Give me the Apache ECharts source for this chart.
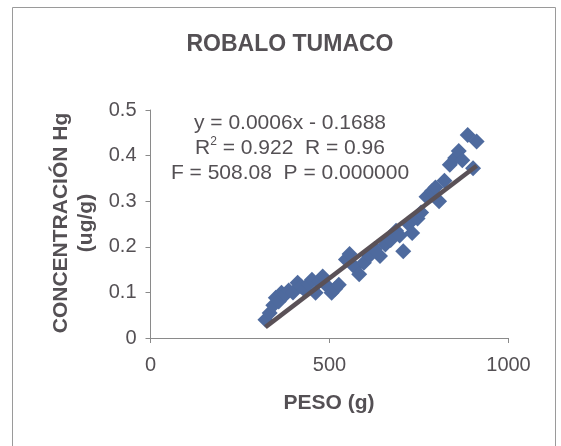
<!DOCTYPE html>
<html>
<head>
<meta charset="utf-8">
<script src="https://cdn.jsdelivr.net/npm/echarts@6/dist/echarts.min.js"></script>
<style>
  html, body { margin: 0; padding: 0; background: #ffffff; }
  #chart { width: 561px; height: 446px; }
</style>
</head>
<body>
<div id="chart"></div>
<script>
// Weight (g) and mercury concentration (ug/g) for each fish sampled
var peso = [321, 333, 343, 350, 358, 366, 376, 386, 398, 411, 421, 431, 441, 451, 461, 470,
            481, 492, 506, 516, 526, 546, 556, 571, 583, 596, 611, 626, 641, 656, 671, 686,
            696, 706, 721, 731, 746, 756, 771, 786, 796, 806, 821, 836, 851, 861, 871, 886,
            901, 911];
var hg = [0.040, 0.055, 0.072, 0.088, 0.080, 0.099, 0.095, 0.104, 0.100, 0.121, 0.113, 0.105,
          0.118, 0.128, 0.099, 0.124, 0.135, 0.115, 0.099, 0.108, 0.117, 0.172, 0.184, 0.155,
          0.140, 0.165, 0.180, 0.195, 0.180, 0.205, 0.215, 0.235, 0.225, 0.190, 0.250, 0.230,
          0.262, 0.275, 0.310, 0.322, 0.330, 0.300, 0.345, 0.380, 0.395, 0.410, 0.390, 0.445,
          0.372, 0.431];

// Fitted linear trend and its statistics
var slope = 0.0006;
var intercept = -0.1688;
var statsLines = [
  'y = 0.0006x - 0.1688',
  'R{sup|2} = 0.922  R = 0.96',
  'F = 508.08  P = 0.000000'
];

// Axis ticks
var xTicks = [0, 500, 1000];
var yTicks = [0, 0.1, 0.2, 0.3, 0.4, 0.5];

var points = peso.map(function (x, i) { return [x, hg[i]]; });
var xMin = Math.min.apply(null, peso);
var xMax = Math.max.apply(null, peso);
var trend = [[xMin, slope * xMin + intercept], [xMax, slope * xMax + intercept]];

var FONT = '"Liberation Sans", Arial, sans-serif';
var TXT = '#545054';

var chart = echarts.init(document.getElementById('chart'), null, { renderer: 'canvas' });
chart.setOption({
  animation: false,
  backgroundColor: '#ffffff',
  grid: { left: 150.5, top: 110, width: 358, height: 228 },
  xAxis: {
    type: 'value',
    min: xTicks[0],
    max: xTicks[xTicks.length - 1],
    interval: xTicks[1] - xTicks[0],
    axisLine: { show: true, lineStyle: { color: '#8a8a8a', width: 1 } },
    axisTick: { show: true, inside: false, length: 5, lineStyle: { color: '#8a8a8a' } },
    splitLine: { show: false },
    axisLabel: {
      color: TXT, fontFamily: FONT, fontSize: 20, margin: 17,
      formatter: function (v) { return String(v); }
    }
  },
  yAxis: {
    type: 'value',
    min: yTicks[0],
    max: yTicks[yTicks.length - 1],
    interval: 0.1,
    axisLine: { show: true, lineStyle: { color: '#8a8a8a', width: 1 } },
    axisTick: { show: true, inside: false, length: 5, lineStyle: { color: '#8a8a8a' } },
    splitLine: { show: false },
    axisLabel: {
      color: TXT, fontFamily: FONT, fontSize: 20, margin: 14,
      formatter: function (v) { return String(Math.round(v * 10) / 10); }
    }
  },
  series: [
    {
      type: 'scatter',
      data: points,
      symbol: 'diamond',
      symbolSize: 16,
      itemStyle: { color: '#4e6a9e', opacity: 1 },
      z: 2
    },
    {
      type: 'line',
      data: trend,
      showSymbol: false,
      symbol: 'none',
      lineStyle: { color: '#5a5157', width: 4.5 },
      z: 3
    }
  ],
  graphic: [
    {
      type: 'rect',
      shape: { x: 12.5, y: 7.5, width: 543, height: 460 },
      style: { fill: 'none', stroke: '#9a9a9a', lineWidth: 1 },
      silent: true
    },
    {
      type: 'text',
      x: 290, y: 45,
      style: {
        text: 'ROBALO TUMACO',
        font: 'bold 23px ' + FONT,
        fill: TXT,
        textAlign: 'center',
        textVerticalAlign: 'middle'
      }
    },
    {
      type: 'text',
      x: 290, y: 148,
      style: {
        text: statsLines.join('\n'),
        font: '21px ' + FONT,
        fill: TXT,
        textAlign: 'center',
        textVerticalAlign: 'middle',
        lineHeight: 25,
        rich: {
          sup: { fontSize: 12, verticalAlign: 'top', fill: TXT, fontFamily: FONT, lineHeight: 25, padding: [0, 0, 9, 0] }
        }
      }
    },
    {
      type: 'text',
      x: 73.5, y: 223,
      rotation: Math.PI / 2,
      style: {
        text: 'CONCENTRACIÓN Hg\n(ug/g)',
        font: 'bold 21px ' + FONT,
        fill: TXT,
        textAlign: 'center',
        textVerticalAlign: 'middle',
        lineHeight: 25
      }
    },
    {
      type: 'text',
      x: 329, y: 403,
      style: {
        text: 'PESO (g)',
        font: 'bold 21px ' + FONT,
        fill: TXT,
        textAlign: 'center',
        textVerticalAlign: 'middle'
      }
    }
  ]
});
</script>
</body>
</html>
